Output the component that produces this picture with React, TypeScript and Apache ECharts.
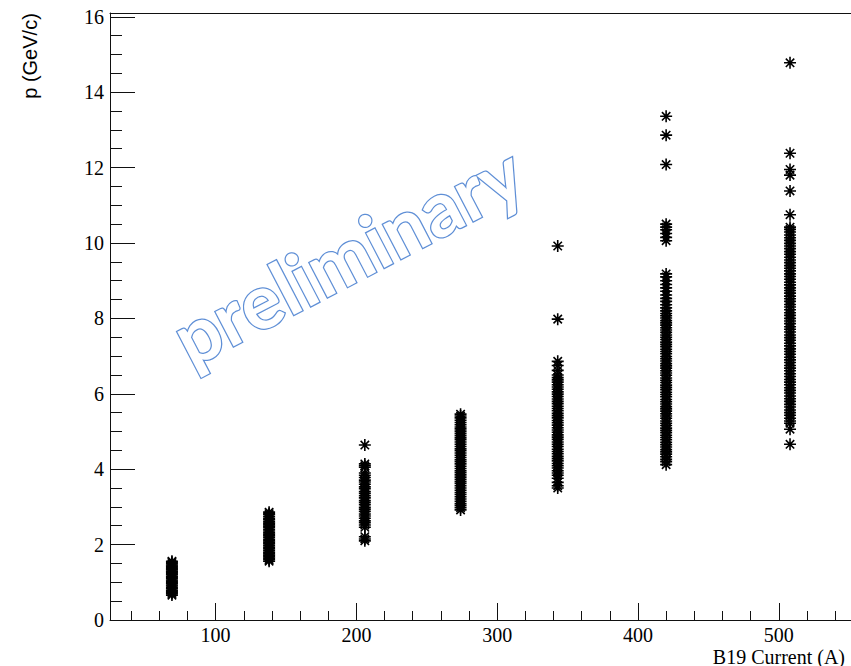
import React, { useEffect, useRef } from "react";
import * as echarts from "echarts";

// B19 magnet current settings (A)
const currents = [69, 138, 206, 274, 343, 420, 508];

// Momentum values (GeV/c)
const p69 = [1.56, 1.53, 1.49, 1.46, 1.43, 1.39, 1.36, 1.33, 1.29, 1.27, 1.23, 1.20, 1.16, 1.13, 1.10, 1.06, 1.03, 0.99, 0.97, 0.93, 0.90, 0.86, 0.83, 0.79, 0.76, 0.73, 0.70, 0.66];
const p138 = [2.86, 2.82, 2.79, 2.74, 2.69, 2.66, 2.61, 2.57, 2.53, 2.49, 2.45, 2.40, 2.36, 2.31, 2.27, 2.23, 2.19, 2.14, 2.10, 2.06, 2.02, 1.97, 1.93, 1.89, 1.85, 1.80, 1.76, 1.72, 1.68, 1.64, 1.60, 1.56];
const p206 = [4.64, 4.14, 4.09, 4.05, 3.90, 3.84, 3.78, 3.71, 3.66, 3.60, 3.53, 3.48, 3.41, 3.36, 3.30, 3.24, 3.17, 3.12, 3.06, 2.99, 2.94, 2.88, 2.81, 2.76, 2.70, 2.63, 2.58, 2.52, 2.46, 2.21, 2.15, 2.10];
const p274 = [5.46, 5.41, 5.36, 5.30, 5.24, 5.18, 5.12, 5.07, 5.01, 4.95, 4.89, 4.83, 4.78, 4.72, 4.66, 4.60, 4.54, 4.49, 4.43, 4.37, 4.31, 4.25, 4.20, 4.14, 4.08, 4.02, 3.96, 3.91, 3.85, 3.79, 3.73, 3.67, 3.62, 3.56, 3.50, 3.44, 3.38, 3.33, 3.27, 3.21, 3.15, 3.09, 3.04, 2.98, 2.92];
const p343 = [9.92, 7.98, 6.86, 6.75, 6.62, 6.50, 6.43, 6.37, 6.31, 6.24, 6.18, 6.12, 6.05, 5.99, 5.93, 5.86, 5.80, 5.74, 5.67, 5.61, 5.55, 5.48, 5.42, 5.36, 5.29, 5.23, 5.17, 5.10, 5.04, 4.98, 4.91, 4.85, 4.79, 4.72, 4.66, 4.60, 4.53, 4.47, 4.41, 4.34, 4.28, 4.22, 4.15, 4.09, 4.03, 3.96, 3.90, 3.84, 3.76, 3.65, 3.56, 3.50];
const p420 = [13.36, 12.86, 12.08, 10.50, 10.42, 10.35, 10.25, 10.15, 10.06, 9.18, 9.10, 9.00, 8.90, 8.81, 8.72, 8.62, 8.53, 8.45, 8.36, 8.28, 8.20, 8.13, 8.07, 8.01, 7.94, 7.88, 7.82, 7.75, 7.69, 7.63, 7.56, 7.50, 7.44, 7.37, 7.31, 7.25, 7.18, 7.12, 7.06, 6.99, 6.93, 6.87, 6.80, 6.74, 6.68, 6.61, 6.55, 6.49, 6.42, 6.36, 6.30, 6.23, 6.17, 6.11, 6.04, 5.98, 5.92, 5.85, 5.79, 5.73, 5.66, 5.60, 5.54, 5.47, 5.41, 5.35, 5.28, 5.22, 5.16, 5.09, 5.03, 4.97, 4.90, 4.84, 4.78, 4.71, 4.65, 4.59, 4.52, 4.46, 4.40, 4.33, 4.26, 4.20, 4.12];
const p508 = [14.78, 12.38, 11.95, 11.80, 11.38, 10.75, 10.42, 10.36, 10.29, 10.21, 10.14, 10.07, 9.99, 9.92, 9.85, 9.77, 9.70, 9.62, 9.55, 9.48, 9.40, 9.33, 9.26, 9.18, 9.11, 9.04, 8.96, 8.89, 8.81, 8.74, 8.67, 8.59, 8.52, 8.45, 8.37, 8.30, 8.23, 8.15, 8.08, 8.00, 7.93, 7.86, 7.78, 7.71, 7.64, 7.56, 7.49, 7.42, 7.34, 7.27, 7.19, 7.12, 7.05, 6.97, 6.90, 6.83, 6.75, 6.68, 6.61, 6.53, 6.46, 6.38, 6.31, 6.24, 6.16, 6.09, 6.02, 5.94, 5.87, 5.80, 5.72, 5.65, 5.57, 5.50, 5.43, 5.35, 5.28, 5.22, 5.06, 4.66];

const columns = [p69, p138, p206, p274, p343, p420, p508];

// Axis ticks
const xMajorTicks = [100, 200, 300, 400, 500];
const xMinorTicks = [40, 60, 80, 120, 140, 160, 180, 220, 240, 260, 280, 320, 340, 360, 380, 420, 440, 460, 480, 520, 540];
const yMajorTicks = [0, 2, 4, 6, 8, 10, 12, 14, 16];
const yMinorTicks = [0.5, 1, 1.5, 2.5, 3, 3.5, 4.5, 5, 5.5, 6.5, 7, 7.5, 8.5, 9, 9.5, 10.5, 11, 11.5, 12.5, 13, 13.5, 14.5, 15, 15.5];

const X_MIN = 25;
const X_MAX = 557.7;
const Y_MIN = 0;
const Y_MAX = 16.1;

const STAR = "path://M5 0L5 10M0 5L10 5M1.5 1.5L8.5 8.5M1.5 8.5L8.5 1.5";

export default function App() {
  const ref = useRef<HTMLDivElement>(null);
  useEffect(() => {
    if (!ref.current) return;
    document.body.style.overflow = "hidden";
    const chart = echarts.init(ref.current, null, { renderer: "svg" });
    const data: number[][] = [];
    columns.forEach((vals, i) => {
      vals.forEach((v) => data.push([currents[i], v]));
    });
    const serif = "'Liberation Serif', 'Times New Roman', serif";
    const sans = "'Liberation Sans', Arial, sans-serif";
    const lineCol = "#111";
    chart.setOption({
      animation: false,
      backgroundColor: "#fff",
      grid: {
        left: 110,
        top: 13,
        right: 0,
        bottom: 46,
        show: false,
        containLabel: false,
      },
      xAxis: [
        {
          type: "value",
          min: X_MIN,
          max: X_MAX,
          position: "bottom",
          splitLine: { show: false },
          axisLine: { show: true, onZero: false, lineStyle: { color: lineCol, width: 1 } },
          axisTick: { show: true, inside: true, length: 17, customValues: xMajorTicks, lineStyle: { color: lineCol } },
          axisLabel: {
            customValues: xMajorTicks,
            margin: 5,
            color: "#000",
            fontFamily: serif,
            fontSize: 20,
          },
        },
        {
          type: "value",
          min: X_MIN,
          max: X_MAX,
          position: "bottom",
          splitLine: { show: false },
          axisLine: { show: false },
          axisTick: { show: true, inside: true, length: 9, customValues: xMinorTicks, lineStyle: { color: lineCol } },
          axisLabel: { show: false },
        },
        {
          type: "value",
          min: X_MIN,
          max: X_MAX,
          position: "top",
          splitLine: { show: false },
          axisLine: { show: true, onZero: false, lineStyle: { color: lineCol, width: 1 } },
          axisTick: { show: false },
          axisLabel: { show: false },
        },
      ],
      yAxis: [
        {
          type: "value",
          min: Y_MIN,
          max: Y_MAX,
          position: "left",
          splitLine: { show: false },
          axisLine: { show: true, onZero: false, lineStyle: { color: lineCol, width: 1 } },
          axisTick: { show: true, inside: true, length: 25, customValues: yMajorTicks, lineStyle: { color: lineCol } },
          axisLabel: {
            customValues: yMajorTicks,
            margin: 6,
            color: "#000",
            fontFamily: serif,
            fontSize: 20,
          },
        },
        {
          type: "value",
          min: Y_MIN,
          max: Y_MAX,
          position: "left",
          splitLine: { show: false },
          axisLine: { show: false },
          axisTick: { show: true, inside: true, length: 12, customValues: yMinorTicks, lineStyle: { color: lineCol } },
          axisLabel: { show: false },
        },
      ],
      graphic: [
        {
          type: "text",
          x: 347,
          y: 254,
          rotation: 0.48,
          z: 1,
          style: {
            text: "preliminary",
            font: "bold 76px Lato, 'Open Sans', sans-serif",
            textAlign: "center",
            textVerticalAlign: "middle",
            fill: "#ffffff",
            stroke: "#5f8fd6",
            lineWidth: 2.5,
            shadowBlur: 3,
            shadowColor: "rgba(70,110,190,0.5)",
          },
        },
        {
          type: "text",
          x: 30,
          y: 56,
          rotation: Math.PI / 2,
          style: {
            text: "p (GeV/c)",
            font: "20px " + sans,
            textAlign: "center",
            textVerticalAlign: "middle",
            fill: "#000",
          },
        },
        {
          type: "text",
          x: 845,
          y: 657,
          style: {
            text: "B19 Current (A)",
            font: "20px " + serif,
            textAlign: "right",
            textVerticalAlign: "middle",
            fill: "#000",
          },
        },
      ],
      series: [
        {
          type: "scatter",
          xAxisIndex: 0,
          yAxisIndex: 0,
          data,
          symbol: STAR,
          symbolSize: 12,
          z: 5,
          itemStyle: {
            color: "rgba(0,0,0,0)",
            borderColor: "#000",
            borderWidth: 1.6,
            opacity: 1,
          },
          emphasis: { disabled: true },
        },
      ],
    });
    return () => chart.dispose();
  }, []);
  return (
    <div
      ref={ref}
      style={{ position: "fixed", left: 0, top: 0, width: 860, height: 666, background: "#fff" }}
    />
  );
}
